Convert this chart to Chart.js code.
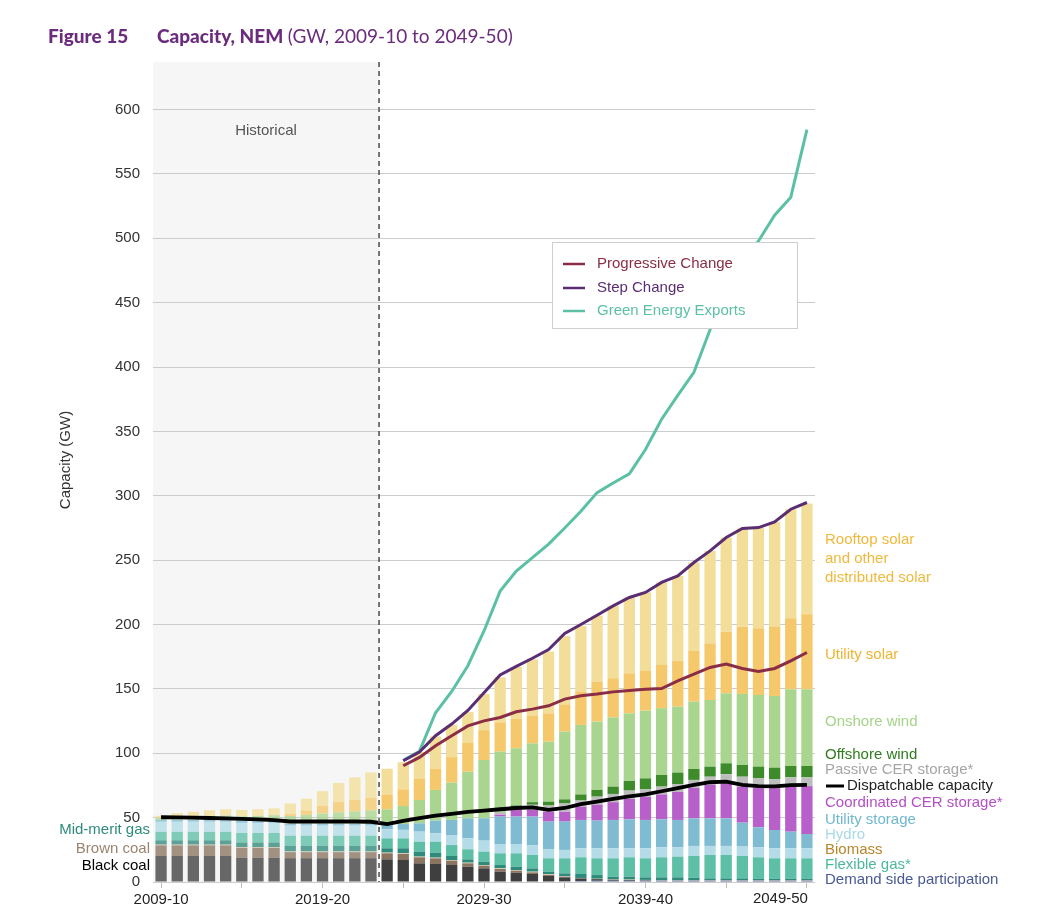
<!DOCTYPE html>
<html><head><meta charset="utf-8">
<script src="https://cdn.jsdelivr.net/npm/chart.js@4.4.0/dist/chart.umd.min.js"></script>
<style>html,body{margin:0;padding:0;background:#fff;}#wrap{width:1060px;height:916px;position:relative;}</style>
</head><body><div id="wrap"><canvas id="c" width="1060" height="916" style="width:1060px;height:916px"></canvas></div>
<script>
const years = ["2009-10","2010-11","2011-12","2012-13","2013-14","2014-15","2015-16","2016-17","2017-18","2018-19",
"2019-20","2020-21","2021-22","2022-23","2023-24","2024-25","2025-26","2026-27","2027-28","2028-29",
"2029-30","2030-31","2031-32","2032-33","2033-34","2034-35","2035-36","2036-37","2037-38","2038-39",
"2039-40","2040-41","2041-42","2042-43","2043-44","2044-45","2045-46","2046-47","2047-48","2048-49","2049-50"];
const yTicks = [0,50,100,150,200,250,300,350,400,450,500,550,600];
const histLastIndex = 13;

const demandSide = [0,0,0,0,0,0,0,0,0,0,0,0,0,0, 0,0,0,0,0,0,0,0,0,0,0,0.5,0.8,1,1,1,1,1,1,1,1,1,1,1,1,1,1];
const blackCoal = [20.2,20.2,20.2,20.2,20.2,18.8,18.8,18.8,18.5,18.5,18.5,18.5,18.5,18.5, 17.6,17.1,14.5,14,13.2,11.9,10.6,8,7.3,6.2,4.7,3.1,2,1.2,0.8,0.6,0.3,0,0,0,0,0,0,0,0,0,0];
const brownCoal = [8.3,8.3,8.3,8.3,8.3,7.8,7.8,7.8,4.7,4.7,4.7,4.7,4.7,4.7, 4.7,4.7,4.7,4.4,3.4,2.6,2.1,2.1,1.5,1.3,0.8,0.5,0,0,0,0,0,0,0,0,0,0,0,0,0,0,0];
const biomass = [0.5,0.5,0.5,0.5,0.5,0.5,0.5,0.5,0.5,0.5,0.5,0.5,0.5,0.5, 0.5,0.5,0.5,0.5,0.5,0.5,0.5,0.5,0.5,0.5,0.5,0.3,0.3,0.3,0.3,0.3,0.3,0.3,0.3,0.3,0.3,0.3,0.3,0.3,0.3,0.3,0.3];
const midMeritGas = [3.4,3.4,3.4,3.4,3.4,3.6,3.6,3.6,4.5,4.5,4.5,4.5,4.5,4.5, 3.4,3.9,3.9,3.9,3.1,2.6,2.6,2.6,2.6,2.6,2,2.3,3.1,2.9,2,2.2,2,2.3,2.3,2,1.5,1.5,1.5,1.3,1.3,1.3,1.3];
const flexibleGas = [6.6,6.6,6.6,6.6,6.6,7.4,7.4,7.4,7.8,7.8,7.8,7.8,7.8,7.8, 7.7,7.7,7.7,8.5,8.5,7.8,7.8,9.1,10.4,10.4,10.4,11.7,13,13,14.3,15.1,14.8,15.6,16.1,16.9,18.2,18.2,17.4,16.6,15.8,15.8,15.8];
const hydro = [7.8,7.8,7.8,7.8,7.8,7.8,7.8,7.8,7.8,7.8,7.8,7.8,7.8,7.8, 7,6.6,7.8,6.5,7.8,8.5,8.5,7.2,7.2,7.7,7.2,6.5,7,7.8,7.8,7,7.8,7.7,7.2,7.8,7,7,7.3,7.7,7.8,7.8,7.8];
const utilityStorage = [1.5,1.5,1.5,1.5,1.5,1.5,1.5,1.5,1.5,1.5,1.5,1.5,1.5,1.5, 4.1,4.5,6.5,9.9,11.7,15.6,17.4,21.3,21.3,22.1,21.3,22,22,21.5,22,22.5,22,21.8,21.3,21.5,21.5,21.5,18.6,15.6,14.2,12.9,11.1];
const coordinatedCER = [0,0,0,0,0,0,0,0,0,0,0,0,0,0, 0,0,0,0,0,0,0,1.5,5.1,5.2,7.7,7.7,10.3,12.3,13.8,15.8,17.8,19.3,21.8,23.5,26,28,27.9,30.5,32.6,34.9,37.2];
const passiveCER = [0,0,0,0,0,0,0,0,0,0,0,0,0,0, 0,0,0,0,0,0,0,1.7,2.4,4,4.8,6.4,4.8,6.3,6.4,6.5,6,6.1,6.1,6.3,6.3,6.2,7.8,7.5,6.8,7.3,6.8];
const offshoreWind = [0,0,0,0,0,0,0,0,0,0,0,0,0,0, 0,0,0,0,0,0,0,0.3,1.2,2,3,3.2,4.7,5.2,5.7,7.5,8.5,9,8.9,8.5,7.8,8.5,9.1,9.1,9,8.8,8.8];
const onshoreWind = [1.5,2.5,2.8,3,3.3,3.6,4,4.4,6,6.8,7.8,8.8,9.5,10.2, 11.5,14,18.1,23.8,29,36.2,45.3,47,44.4,45.7,46.6,52.6,54,53.1,53.8,52.5,52.6,51.8,51.2,52.3,51.8,54.4,55.2,55.7,55.7,59.6,59.6];
const utilitySolar = [0,0,0,0,0,0,0,0.2,1.5,3.5,6,8,9,10, 11.5,13,16.3,16.5,19.8,22.3,23.2,22.7,23.1,21.3,22,21.2,26,31.1,30.4,31.1,31.1,33.7,35.8,39.6,44,47.9,52.3,51.8,53.9,55.2,58.3];
const rooftopSolar = [1.6,2.7,3.4,4.4,4.9,5,5.1,5.2,8.2,9.1,11.5,14.8,17.5,19.6, 20,21,21,25,25,24,28,35,40,44,48,53,51,51.3,56.2,58.9,60.8,64.1,65.8,68.5,71.8,73.1,76.2,78.2,81.3,84.7,86];

const dispatchable = [50.3,50.2,50,49.7,49.4,49,48.7,48,47,47,47,47,47,46.8, 45,47.5,49.7,51.5,53,54.5,55.5,56.5,57.5,58,56,57.5,60.5,62.5,64.5,66.5,68,70.5,73,75.5,77.5,78,75.5,74.5,74.3,75.3,75.5];
const progressiveChange = [null,null,null,null,null,null,null,null,null,null,null,null,null,null,null, 90.3,96.8,105.8,113.6,121.3,125.2,127.8,132.2,134.3,136.9,142.1,144.7,146,147.7,148.8,149.8,150.3,156.3,161.5,166.7,169.3,165.9,163.5,165.9,171.8,178.3];
const stepChange = [null,null,null,null,null,null,null,null,null,null,null,null,null,null,null, 94.2,101,113.6,122.7,133.3,147,160.8,167.5,173.8,180.5,193,200,207.2,214.5,221,224.9,232.7,237.8,248.2,257.2,267.6,274.6,275.3,279.7,289.6,294.8];
const greenEnergyExports = [null,null,null,null,null,null,null,null,null,null,null,null,null,null,null, 94.5,101.5,131.5,148,168,195,226,241.5,252,262.5,275,288,302.5,310,317,336,359.5,378,396,429,459,480,498,518,532,584.5];

const FONT = "'Liberation Sans', Arial, sans-serif";

function rgba(hex, a){const n=parseInt(hex.slice(1),16);return `rgba(${n>>16&255},${n>>8&255},${n&255},${a})`;}
function barColor(hex){return ctx => ctx.dataIndex <= histLastIndex ? rgba(hex,0.78) : hex;}

const barSeries = [
  ["Demand side participation", demandSide, "#4b5f8f"],
  ["Black coal", blackCoal, "#3f3f3f"],
  ["Brown coal", brownCoal, "#8b7560"],
  ["Biomass", biomass, "#e8c9a6"],
  ["Mid-merit gas", midMeritGas, "#2e8b7b"],
  ["Flexible gas*", flexibleGas, "#5cbfa6"],
  ["Hydro", hydro, "#b3dce8"],
  ["Utility storage", utilityStorage, "#7fbcd2"],
  ["Coordinated CER storage*", coordinatedCER, "#b860c9"],
  ["Passive CER storage*", passiveCER, "#bdbdbd"],
  ["Offshore wind", offshoreWind, "#3d8b2b"],
  ["Onshore wind", onshoreWind, "#a9d58e"],
  ["Utility solar", utilitySolar, "#f5c86b"],
  ["Rooftop solar and other distributed solar", rooftopSolar, "#f2de98"]
];

const datasets = [];
[["Dispatchable capacity", dispatchable, "#000000", 3.8],
 ["Progressive Change", progressiveChange, "#8a2d46", 3],
 ["Step Change", stepChange, "#5b2d73", 3],
 ["Green Energy Exports", greenEnergyExports, "#5cc0a5", 3]].forEach((s,i)=>{
  datasets.push({type:'line', label:s[0], data:s[1], borderColor:s[2], backgroundColor:s[2], borderWidth:s[3],
    pointRadius:0, tension:0, fill:false, stack:'line'+i, order:0, spanGaps:false});
});
barSeries.forEach(s=>{
  datasets.push({type:'bar', label:s[0], data:s[1], backgroundColor:barColor(s[2]), borderWidth:0,
    barPercentage:0.7, categoryPercentage:1.0, stack:'cap', order:1});
});

const overlay = {
  id:'overlay',
  beforeDraw(chart){
    const {ctx, chartArea:a, scales:{x}} = chart;
    const dx = (x.getPixelForValue(histLastIndex) + x.getPixelForValue(histLastIndex+1))/2;
    ctx.save();
    ctx.fillStyle = '#f6f6f6';
    ctx.fillRect(a.left, a.top, dx - a.left, a.bottom - a.top);
    ctx.restore();
  },
  afterDraw(chart){
    const {ctx, chartArea:a, scales:{x}} = chart;
    const dx = (x.getPixelForValue(histLastIndex) + x.getPixelForValue(histLastIndex+1))/2;
    ctx.save();
    ctx.strokeStyle = '#555'; ctx.lineWidth = 1.6; ctx.setLineDash([5,4]);
    ctx.beginPath(); ctx.moveTo(dx, a.top); ctx.lineTo(dx, a.bottom); ctx.stroke();
    ctx.setLineDash([]);
    ctx.fillStyle = '#555'; ctx.font = `15px ${FONT}`; ctx.textAlign='center'; ctx.textBaseline='middle';
    ctx.fillText('Historical', (a.left+dx)/2, 131);
    // last x label, right-aligned to its bar as in the original
    const li = years.length - 1;
    ctx.fillStyle = '#222'; ctx.textAlign='right'; ctx.textBaseline='middle'; ctx.font = `15px ${FONT}`;
    ctx.fillText(years[li], x.getPixelForValue(li) + 1, 899);
    // title
    ctx.textAlign='left'; ctx.textBaseline='alphabetic';
    ctx.fillStyle = '#6b2c7d';
    ctx.font = `900 19px Lato, 'DejaVu Sans', sans-serif`;
    ctx.fillText('Figure 15', 48, 43);
    ctx.fillText('Capacity, NEM', 157, 43);
    const w = ctx.measureText('Capacity, NEM ').width;
    ctx.font = `19px Lato, 'DejaVu Sans', sans-serif`;
    ctx.fillText('(GW, 2009-10 to 2049-50)', 157 + w, 43);
    // y axis title
    ctx.save();
    ctx.translate(66, 460); ctx.rotate(-Math.PI/2);
    ctx.fillStyle='#333'; ctx.font = `15px ${FONT}`; ctx.textAlign='center'; ctx.textBaseline='middle';
    ctx.fillText('Capacity (GW)', 0, 0);
    ctx.restore();
    // legend box
    ctx.fillStyle='#fff'; ctx.strokeStyle='#cfcfcf'; ctx.lineWidth=1;
    ctx.fillRect(552.5, 242.5, 245, 86); ctx.strokeRect(552.5, 242.5, 245, 86);
    const leg = [['Progressive Change','#8a2d46',264],['Step Change','#5b2d73',288],['Green Energy Exports','#5cc0a5',311]];
    ctx.font = `15px ${FONT}`; ctx.textAlign='left'; ctx.textBaseline='middle';
    leg.forEach(l=>{
      ctx.strokeStyle=l[1]; ctx.lineWidth=2.5; ctx.beginPath(); ctx.moveTo(563,l[2]); ctx.lineTo(585,l[2]); ctx.stroke();
      ctx.fillStyle=l[1]; ctx.fillText(l[0], 597, l[2]);
    });
    // right labels
    const rl = [
      ['Rooftop solar','#f0b93a',540],['and other','#f0b93a',559],['distributed solar','#f0b93a',578],
      ['Utility solar','#f0b430',655],['Onshore wind','#a5d388',722],['Offshore wind','#2e7d1e',755],
      ['Passive CER storage*','#a5a5a5',770],['Coordinated CER storage*','#b44fc6',803],
      ['Utility storage','#6fb8cf',820],['Hydro','#a9d8e6',835],['Biomass','#b8862b',850],
      ['Flexible gas*','#4db89c',865],['Demand side participation','#4a5a94',880]
    ];
    ctx.font = `15px ${FONT}`;
    rl.forEach(l=>{ctx.fillStyle=l[1]; ctx.fillText(l[0], 825, l[2]);});
    ctx.strokeStyle='#000'; ctx.lineWidth=3; ctx.beginPath(); ctx.moveTo(826,786); ctx.lineTo(844,786); ctx.stroke();
    ctx.fillStyle='#222'; ctx.fillText('Dispatchable capacity', 847, 786);
    // left labels
    ctx.textAlign='right';
    [['Mid-merit gas','#2e8b7b',830],['Brown coal','#9a8470',849],['Black coal','#000',866]].forEach(l=>{
      ctx.fillStyle=l[1]; ctx.fillText(l[0], 150, l[2]);
    });
    ctx.restore();
  }
};

new Chart(document.getElementById('c'), {
  data:{labels:years, datasets},
  options:{
    responsive:false, animation:false,
    layout:{padding:{top:62, right:245, bottom:0, left:0}},
    plugins:{legend:{display:false}, tooltip:{enabled:false}, title:{display:false}},
    scales:{
      x:{stacked:true, offset:true,
        grid:{display:true, drawOnChartArea:false, drawTicks:true, tickLength:6, offset:false,
          color: c => (c.index % 5 === 0) ? '#bdbdbd' : 'rgba(0,0,0,0)'},
        border:{display:false},
        ticks:{autoSkip:false, maxRotation:0, minRotation:0, padding:3, color:'#222', font:{family:FONT, size:15},
          callback:(v,i)=> (i % 10 === 0 && i !== years.length - 1) ? years[i] : ''},
        afterFit: s => { s.height = 34; }
      },
      y:{stacked:true, min:0, max:637,
        grid:{color:'#cccccc', lineWidth:1, drawTicks:false},
        border:{display:false},
        afterBuildTicks: s => { s.ticks = yTicks.map(v=>({value:v})); },
        ticks:{padding:13, color:'#333', font:{family:FONT, size:15}},
        afterFit: s => { s.width = 153; }
      }
    }
  },
  plugins:[overlay]
});
</script></body></html>
